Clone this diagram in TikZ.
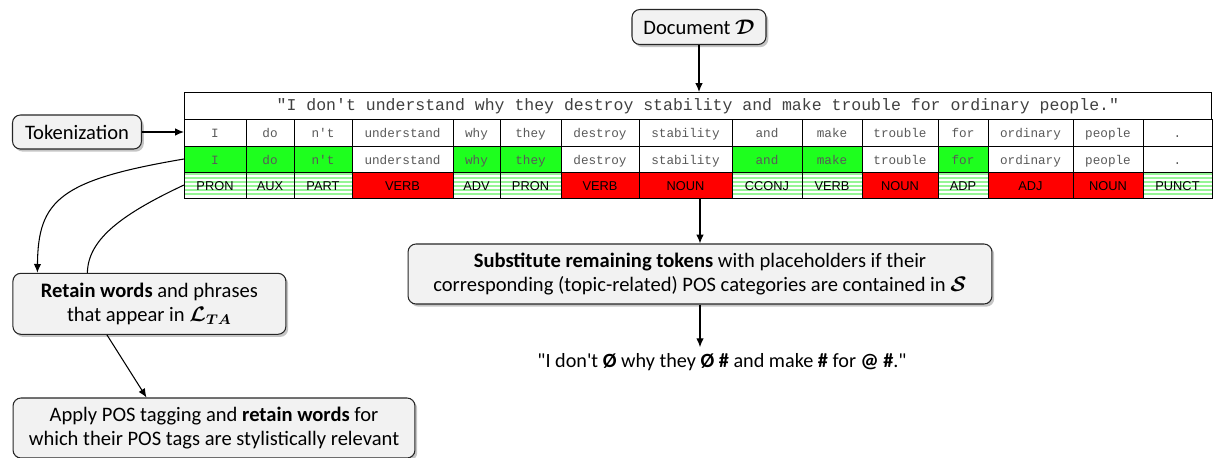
\documentclass[tikz,border=0pt]{standalone}
\usepackage{fontspec}
\usepackage{bm}
\setmainfont{Carlito}[Ligatures=TeXOff]
\setmonofont{Liberation Mono}
\newfontfamily\posfont{Liberation Sans}
\usetikzlibrary{shadows, arrows.meta}
\tikzset{>={Latex[length=5pt, width=4.2pt]}}
\definecolor{keepgreen}{RGB}{30,255,30}
\definecolor{dropred}{RGB}{255,0,0}
\definecolor{stripegreen}{RGB}{150,245,150}
\tikzset{
    stepbox/.style={draw=black!85, semithick, rounded corners=4.5pt, fill=gray!10, align=center, inner sep=0pt,
        drop shadow={shadow xshift=1.3pt, shadow yshift=-1.5pt, fill=black!45},
        font=\fontsize{11.7}{13.5}\selectfont},
    cell/.style={draw, inner sep=0pt, outer sep=0pt, anchor=north west, text height=1.6ex, text depth=0.35ex},
    link/.style={semithick},
}

\begin{document}
\begin{tikzpicture}[x=0.02cm, y=-0.02cm]
    \useasboundingbox (0, 0) rectangle (1214, 457);
    % table
    \node[cell, minimum width=20.56cm, minimum height=0.54cm, text=black!75,
        font=\ttfamily\fontsize{9.4}{11}\selectfont] (sent) at (184, 92)
        {"I don't understand why they destroy stability and make trouble for ordinary people."};
    \foreach \y in {174, 178, ..., 197}
        \draw[stripegreen, line width=0.6pt](184, \y)--(1212, \y);
    \foreach \xl/\xr/\w/\kc/\p/\pc [count=\i] in {184/246/I/keepgreen/PRON/none, 246/294/do/keepgreen/AUX/none,
        294/352/n't/keepgreen/PART/none, 352/453/understand/white/VERB/dropred, 453/500/why/keepgreen/ADV/none,
        500/561/they/keepgreen/PRON/none, 561/639/destroy/white/VERB/dropred, 639/732/stability/white/NOUN/dropred,
        732/802/and/keepgreen/CCONJ/none, 802/862/make/keepgreen/VERB/none, 862/938/trouble/white/NOUN/dropred,
        938/988/for/keepgreen/ADP/none, 988/1073/ordinary/white/ADJ/dropred, 1073/1143/people/white/NOUN/dropred,
        1143/1212/./white/PUNCT/none}{
        \node[cell, minimum width={(\xr-\xl)*0.02cm}, minimum height=0.54cm, text=black!65,
            font=\ttfamily\fontsize{7.2}{9}\selectfont] (tok\i) at (\xl, 119) {\w};
        \node[cell, fill=\kc, minimum width={(\xr-\xl)*0.02cm}, minimum height=0.52cm, text=black!65,
            font=\ttfamily\fontsize{7.2}{9}\selectfont] (grn\i) at (\xl, 146) {\w};
        \node[cell, fill=\pc, minimum width={(\xr-\xl)*0.02cm}, minimum height=0.52cm,
            font=\posfont\fontsize{7.3}{8}\selectfont] (pos\i) at (\xl, 172) {\p};
    }
    % steps
    \node[stepbox, minimum width=2.68cm, minimum height=0.70cm] (doc) at (699, 27) {Document $\bm{\mathcal{D}}$};
    \node[stepbox, minimum width=2.58cm, minimum height=0.68cm] (tok) at (77, 132) {Tokenization};
    \node[stepbox, minimum width=5.46cm, minimum height=1.22cm] (retain) at (149.4, 303.8)
        {\textbf{Retain words} and phrases\\that appear in $\bm{\mathcal{L}_{TA}}$};
    \node[stepbox, minimum width=11.68cm, minimum height=1.2cm] (subst) at (700, 274)
        {\textbf{Substitute remaining tokens} with placeholders if their\\corresponding (topic-related) POS categories are contained in $\bm{\mathcal{S}}$};
    \node[stepbox, minimum width=8.04cm, minimum height=1.2cm] (apply) at (214, 428)
        {Apply POS tagging and \textbf{retain words} for\\which their POS tags are stylistically relevant};
    \node[font=\fontsize{11.5}{13}\selectfont] (res) at (722, 362)
        {"I don't \textbf{Ø} why they \textbf{Ø \#} and make \textbf{\#} for \textbf{@ \#}."};
    % connectors
    \draw[link, ->](doc)--(doc |- sent.north);
    \draw[link, ->](tok.east)--(tok.east -| tok1.west);
    \draw[link, ->](grn1.west) .. controls (60, 180) and (38, 200) .. ([xshift=0.5cm]retain.north west);
    \draw[link]([xshift=1.5cm]retain.north west) .. controls (88, 240) and (120, 215) .. (pos1.west);
    \draw[link, ->]([xshift=-0.85cm]retain.south)--([xshift=-1.35cm]apply.north);
    \draw[link, ->](subst.north |- pos8.south)--(subst.north);
    \draw[link, ->](subst)--(subst.south |- res.north);
\end{tikzpicture}
\end{document}
